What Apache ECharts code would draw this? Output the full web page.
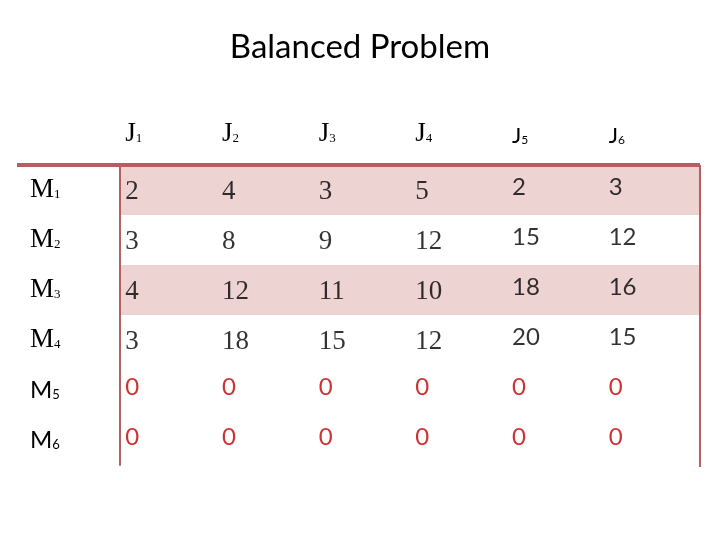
<!DOCTYPE html>
<html><head><meta charset="utf-8">
<script src="https://cdn.jsdelivr.net/npm/echarts@6/dist/echarts.min.js"></script>
<style>html,body{margin:0;padding:0;background:#fff}#c{width:720px;height:540px}</style>
</head><body><div id="c"></div>
<script>
const title = "Balanced Problem";
const columns = ["J1","J2","J3","J4","J5","J6"];
const rows = ["M1","M2","M3","M4","M5","M6"];
const rowM1 = [2,4,3,5,2,3];
const rowM2 = [3,8,9,12,15,12];
const rowM3 = [4,12,11,10,18,16];
const rowM4 = [3,18,15,12,20,15];
const rowM5 = [0,0,0,0,0,0];
const rowM6 = [0,0,0,0,0,0];
const values = [rowM1,rowM2,rowM3,rowM4,rowM5,rowM6];
const shadedRows = ["M1","M3"];

const data = [];
values.forEach((row, r) => row.forEach((v, c) => {
  const dummy = r >= 4;
  const serif = !dummy && c < 4;
  data.push({
    value: [columns[c], rows[r], v],
    label: {
      color: dummy ? '#c00000' : '#000',
      fontFamily: serif ? 'Liberation Serif' : 'Lato',
      fontSize: serif ? 27 : 24,
      offset: [-43, serif ? 2 : -3]
    }
  });
}));

const serifRich = {a:{fontFamily:'Liberation Serif',fontSize:27,color:'#000'},b:{fontFamily:'Liberation Serif',fontSize:13,color:'#000',padding:[10,0,0,0]}};
const sansRich = {a:{fontFamily:'Lato',fontSize:24,color:'#000'},b:{fontFamily:'Lato',fontSize:13,color:'#000',padding:[10,0,0,0]}};

const chart = echarts.init(document.getElementById('c'));
chart.setOption({
  animation: false,
  title: {text: title, left: 'center', top: 26, textStyle: {fontFamily: 'Lato', fontSize: 33, fontWeight: 'normal', color: '#000'}},
  grid: {left: 120, right: 20, top: 165, bottom: 75},
  xAxis: {type: 'category', data: columns, position: 'top',
    axisLine: {show: false}, axisTick: {show: false},
    axisLabel: {margin: 18, align: 'left', padding: [0,0,0,-48+5],
      formatter: v => '{' + (v === 'J5' || v === 'J6' ? 'c' : 'a') + '|' + v[0] + '}{' + (v === 'J5' || v === 'J6' ? 'd' : 'b') + '|' + v.slice(1) + '}',
      rich: {a:{fontFamily:'Liberation Serif',fontSize:27,color:'#000'},b:{fontFamily:'Liberation Serif',fontSize:13,color:'#000',padding:[10,0,0,0]},
             c:{fontFamily:'Lato',fontSize:22,color:'#000'},d:{fontFamily:'Lato',fontSize:12,color:'#000',padding:[8,0,0,0]}}}},
  yAxis: {type: 'category', data: rows, inverse: true,
    axisLine: {show: true, lineStyle: {color: '#b56060', width: 2}}, axisTick: {show: false},
    axisLabel: {margin: 90, align: 'left',
      formatter: (v, i) => i < 4 ? '{a|' + v[0] + '}{b|' + v.slice(1) + '}' : '{c|' + v[0] + '}{d|' + v.slice(1) + '}',
      rich: {a: serifRich.a, b: serifRich.b, c: sansRich.a, d: sansRich.b}}},
  series: [{
    type: 'custom', z: 0, silent: true,
    data: shadedRows.map(r => [columns[0], r]),
    renderItem: (params, api) => {
      const p = api.coord([columns[0], api.value(1)]);
      const sz = api.size([1, 1]);
      const cs = params.coordSys;
      return {type: 'rect', shape: {x: cs.x, y: p[1] - sz[1] / 2, width: cs.width, height: sz[1]},
        style: {fill: '#eed3d3'}};
    },
    encode: {x: 0, y: 1}
  }, {
    type: 'scatter', symbolSize: 0, data: data, z: 5,
    label: {show: true, position: 'inside', align: 'left', textBorderWidth: 0, formatter: p => p.value[2]}
  }],
  graphic: [
    {type: 'line', shape: {x1: 17, y1: 165, x2: 700, y2: 165}, style: {stroke: '#b56060', lineWidth: 4}, z: 100},
    {type: 'line', shape: {x1: 700, y1: 165, x2: 700, y2: 467}, style: {stroke: '#b56060', lineWidth: 2}, z: 100}
  ]
});
</script></body></html>
